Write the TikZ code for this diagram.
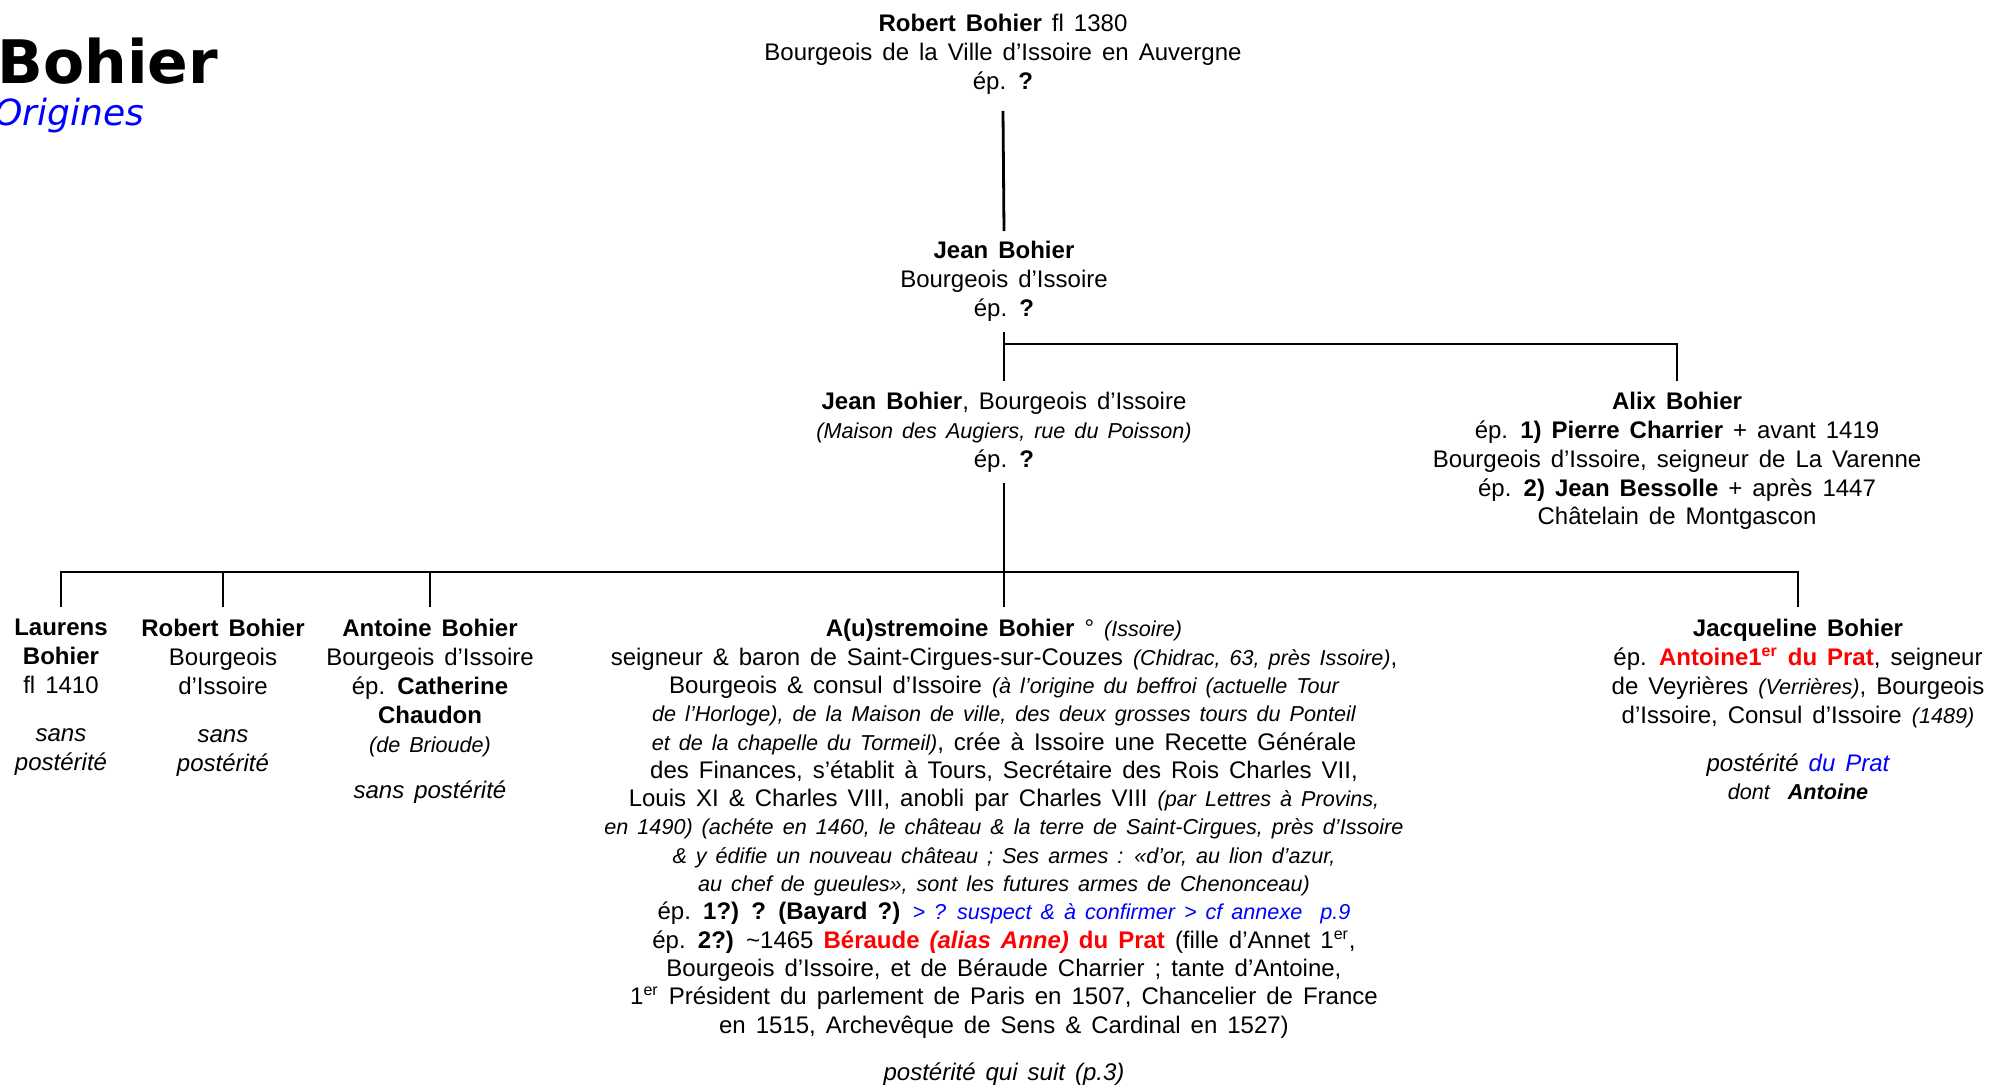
\documentclass[tikz,border=0pt]{standalone}
\usepackage{fontspec}
\setmainfont{Liberation Sans}[WordSpace=1.5]
\newfontfamily\titlefont{DejaVu Sans}[BoldFont={DejaVu Sans Bold},ItalicFont={DejaVu Sans Oblique}]
\definecolor{pblue}{RGB}{0,0,255}
\definecolor{pred}{RGB}{255,0,0}
\newcommand{\smit}[1]{{\fontsize{10.8}{14}\selectfont\itshape #1}}
\tikzset{
  person/.style={anchor=north, inner sep=0pt, align=center, font=\fontsize{12}{14.4}\selectfont},
  conn/.style={draw=black, line width=1.4pt},
}
\begin{document}
\begin{tikzpicture}[x=0.5pt,y=-0.5pt]
\useasboundingbox (0,0) rectangle (1992,1087);
\clip (0,0) rectangle (1992,1087);
\fill[white] (0,0) rectangle (1992,1087);

% title
\node[anchor=base west, inner sep=0pt, font=\titlefont\bfseries\fontsize{30}{36}\selectfont] (title) at (-3,83) {Bohier};
\node[anchor=base west, inner sep=0pt, text=pblue, font=\titlefont\itshape\fontsize{18}{22}\selectfont] (subtitle) at (-6,125) {Origines};

% generation 1
\node[person] (rob1) at (1003,14) {\textbf{Robert Bohier} fl 1380\\Bourgeois de la Ville d’Issoire en Auvergne\\ép. \textbf{?}};

% generation 2
\node[person] (jean1) at (1004,241) {\textbf{Jean Bohier}\\Bourgeois d’Issoire\\ép. \textbf{?}};

% generation 3
\node[person] (jean2) at (1004,392) {\textbf{Jean Bohier}, Bourgeois d’Issoire\\\smit{(Maison des Augiers, rue du Poisson)}\\ép. \textbf{?}};
\node[person] (alix) at (1677,392) {\textbf{Alix Bohier}\\ép. \textbf{1) Pierre Charrier} + avant 1419\\Bourgeois d’Issoire, seigneur de La Varenne\\ép. \textbf{2) Jean Bessolle} + après 1447\\Châtelain de Montgascon};

% generation 4
\node[person] (laur) at (61,619) {\textbf{Laurens}\\\textbf{Bohier}\\fl 1410\\[9.5pt]\textit{sans}\\\textit{postérité}};
\node[person] (rob2) at (223,619) {\textbf{Robert Bohier}\\Bourgeois\\d’Issoire\\[9.5pt]\textit{sans}\\\textit{postérité}};
\node[person] (ant) at (430,619) {\textbf{Antoine Bohier}\\Bourgeois d’Issoire\\ép. \textbf{Catherine}\\\textbf{Chaudon}\\\smit{(de Brioude)}\\[9pt]\textit{sans postérité}};
\node[person, font=\fontsize{12}{14.15}\selectfont] (aust) at (1004,619) {\textbf{A(u)stremoine Bohier} ° \smit{(Issoire)}\\
seigneur \& baron de Saint-Cirgues-sur-Couzes \smit{(Chidrac, 63, près Issoire)},\\
Bourgeois \& consul d’Issoire \smit{(à l’origine du beffroi (actuelle Tour}\\
\smit{de l'Horloge), de la Maison de ville, des deux grosses tours du Ponteil}\\
\smit{et de la chapelle du Tormeil)}, crée à Issoire une Recette Générale\\
des Finances, s’établit à Tours, Secrétaire des Rois Charles VII,\\
Louis XI \& Charles VIII, anobli par Charles VIII \smit{(par Lettres à Provins,}\\
\smit{en 1490) (achéte en 1460, le château \& la terre de Saint-Cirgues, près d'Issoire}\\
\smit{\& y édifie un nouveau château ; Ses armes : «d'or, au lion d'azur,}\\
\smit{au chef de gueules», sont les futures armes de Chenonceau)}\\
ép. \textbf{1?) ? (Bayard ?)} {\color{pblue}\smit{> ? suspect \& à confirmer > cf annexe\ \ p.9}}\\
ép. \textbf{2?)} \textasciitilde1465 {\color{pred}\bfseries Béraude \itshape(alias Anne)\upshape\ du Prat} (fille d’Annet 1\textsuperscript{er},\\
Bourgeois d’Issoire, et de Béraude Charrier ; tante d’Antoine,\\
1\textsuperscript{er} Président du parlement de Paris en 1507, Chancelier de France\\
en 1515, Archevêque de Sens \& Cardinal en 1527)\\[9.8pt]
\textit{postérité qui suit (p.3)}};
\node[person] (jacq) at (1798,619) {\textbf{Jacqueline Bohier}\\
ép. {\color{pred}\bfseries Antoine1\textsuperscript{er} du Prat}, seigneur\\
de Veyrières \smit{(Verrières)}, Bourgeois\\
d’Issoire, Consul d’Issoire \smit{(1489)}\\[9.5pt]
\textit{postérité {\color{pblue}du Prat}}\\
\smit{dont\ \ \textbf{Antoine}}};

% connectors
\draw[conn] ([yshift=-8pt]rob1.south) -- ([yshift=5pt]jean1.north);
\draw[conn] ([yshift=-5pt]jean1.south) -- ([yshift=5.5pt]jean2.north);
\coordinate (br1) at (1004,344);
\draw[conn] (br1) -| ([yshift=5.5pt]alix.north);
\draw[conn] ([yshift=-5pt]jean2.south) -- ([yshift=6pt]aust.north);
\coordinate (bus) at (1004,572);
\draw[conn] ([yshift=6pt]laur.north) -- (laur.north |- bus) -- (jacq.north |- bus) -- ([yshift=6pt]jacq.north);
\draw[conn] ([yshift=6pt]rob2.north) -- (rob2.north |- bus);
\draw[conn] ([yshift=6pt]ant.north) -- (ant.north |- bus);
\end{tikzpicture}
\end{document}
